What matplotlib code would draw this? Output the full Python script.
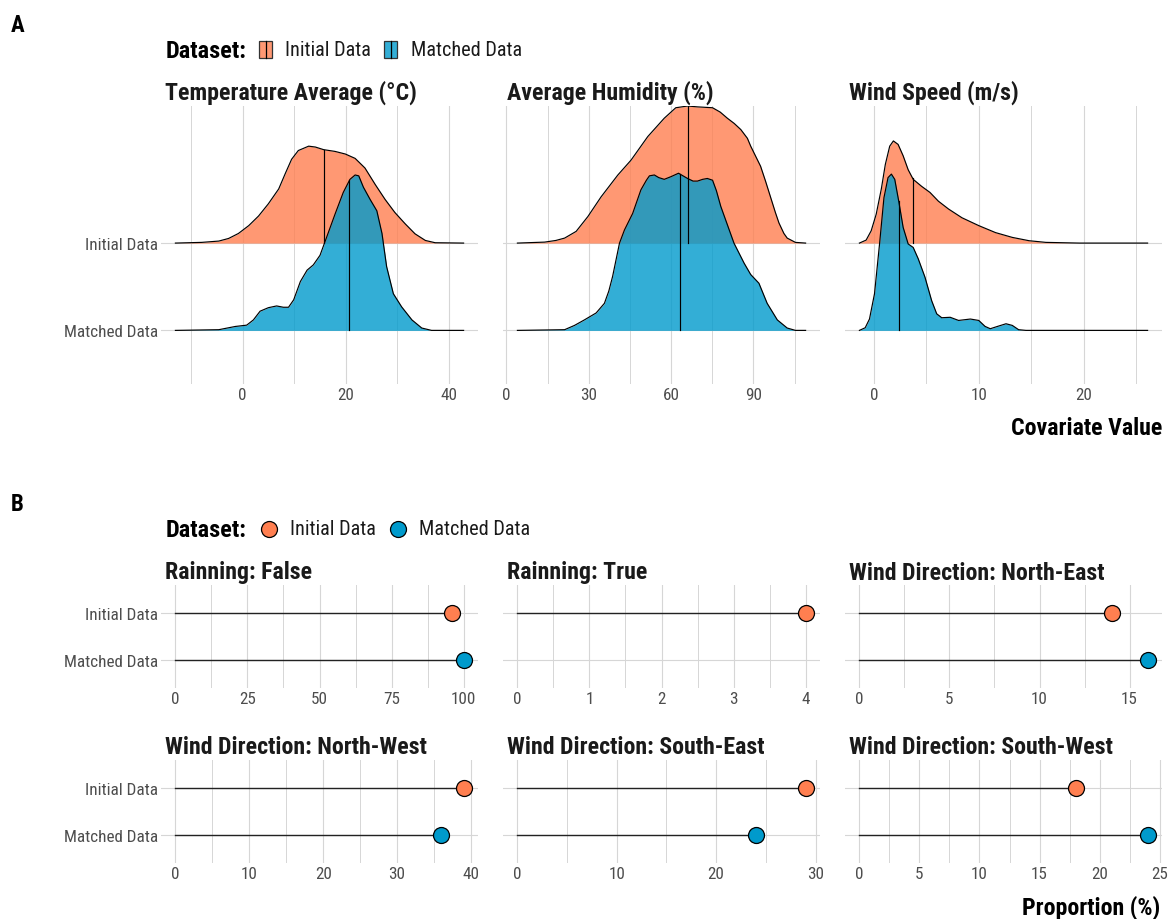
import numpy as np
import matplotlib
matplotlib.use("Agg")
import matplotlib.pyplot as plt
from matplotlib import font_manager
from matplotlib.patches import Rectangle
from matplotlib.lines import Line2D

installed = {f.name for f in font_manager.fontManager.ttflist}
CONDENSED = "Roboto Condensed" in installed
if CONDENSED:
    plt.rcParams['font.family'] = ['Roboto Condensed', 'DejaVu Sans']
    FS = dict(title=17.2, tick=12.3, legend=14.6, legend_title=17.5, tag=16.5)
else:
    plt.rcParams['font.family'] = ['Roboto', 'DejaVu Sans']
    FS = dict(title=15, tick=10.8, legend=13, legend_title=14.5, tag=15)

# ---------------------------------------------------------------- data
datasets = ["Initial Data", "Matched Data"]
colors = {"Initial Data": "#FF7F50", "Matched Data": "#009ACC"}

ridge_titles = ["Temperature Average (°C)", "Average Humidity (%)", "Wind Speed (m/s)"]

# density profiles (height in row units) of each covariate
temp_initial_x = [-13.0, -7.9, -4.6, -2.7, -0.8, 1.2, 3.1, 5.0, 7.0, 8.3, 9.5, 10.8, 12.8, 14.1,
                  15.7, 17.9, 19.9, 21.8, 23.7, 25.7, 27.6, 29.5, 31.5, 33.4, 35.4, 37.3, 42.8]
temp_initial_h = [0.0, 0.008, 0.023, 0.053, 0.11, 0.20, 0.31, 0.45, 0.62, 0.80, 0.96, 1.06, 1.11, 1.10,
                  1.07, 1.05, 1.02, 0.97, 0.86, 0.67, 0.50, 0.35, 0.22, 0.106, 0.03, 0.004, 0.0]
temp_matched_x = [-13.0, -4.6, -1.4, 0.8, 2.1, 3.4, 5.0, 6.6, 7.9, 8.9, 9.9, 11.2, 12.5, 13.7,
                  15.0, 16.3, 17.9, 19.5, 20.8, 21.8, 22.5, 23.4, 24.7, 26.0, 27.0, 27.9, 29.2,
                  30.8, 32.8, 34.7, 36.6, 42.8]
temp_matched_h = [0.0, 0.008, 0.045, 0.06, 0.12, 0.22, 0.26, 0.28, 0.265, 0.265, 0.35, 0.56, 0.69,
                  0.75, 0.86, 1.07, 1.33, 1.58, 1.73, 1.78, 1.77, 1.64, 1.50, 1.37, 1.11, 0.73, 0.42,
                  0.27, 0.12, 0.027, 0.0, 0.0]

hum_initial_x = [4.0, 13.9, 18.0, 21.2, 25.4, 29.7, 34.5, 40.6, 45.4, 51.5, 57.5, 61.7, 66.0,
                 69.6, 75.1, 77.9, 80.5, 83.0, 85.4, 87.8, 89.0, 92.6, 94.4, 96.2, 98.0, 99.3,
                 101.1, 102.3, 105.3, 109.0]
hum_initial_h = [0.0, 0.011, 0.03, 0.057, 0.134, 0.305, 0.53, 0.78, 0.95, 1.22, 1.43, 1.55, 1.57,
                 1.56, 1.55, 1.50, 1.43, 1.37, 1.30, 1.20, 1.11, 0.88, 0.71, 0.53, 0.35, 0.23,
                 0.11, 0.057, 0.008, 0.0]
hum_matched_x = [4.0, 21.2, 24.8, 28.4, 32.7, 35.7, 37.3, 38.7, 41.2, 43.0, 46.0, 49.0, 51.0, 52.1,
                 53.9, 55.5, 57.5, 59.9, 62.7, 66.0, 68.0, 69.6, 71.5, 73.2, 75.1, 76.5, 78.1,
                 82.9, 86.6, 89.0, 92.0, 95.0, 98.7, 102.3, 105.3, 109.0]
hum_matched_h = [0.0, 0.008, 0.057, 0.12, 0.20, 0.31, 0.45, 0.62, 1.00, 1.15, 1.34, 1.61, 1.72, 1.77,
                 1.78, 1.75, 1.73, 1.76, 1.80, 1.74, 1.71, 1.71, 1.73, 1.74, 1.72, 1.60, 1.42,
                 1.00, 0.77, 0.64, 0.54, 0.31, 0.12, 0.027, 0.0, 0.0]

wind_initial_x = [-1.38, -0.74, -0.26, 0.22, 0.71, 1.09, 1.51, 1.86, 2.31, 2.79, 3.27, 3.75,
                  4.55, 5.35, 6.15, 7.12, 8.40, 10.0, 11.6, 13.2, 14.8, 16.4, 19.6, 26.1]
wind_initial_h = [0.0, 0.034, 0.14, 0.33, 0.62, 0.90, 1.11, 1.17, 1.13, 1.00, 0.84, 0.73,
                  0.65, 0.58, 0.48, 0.39, 0.29, 0.20, 0.12, 0.065, 0.027, 0.008, 0.0, 0.0]
wind_matched_x = [-1.38, -0.83, -0.42, 0.06, 0.54, 0.96, 1.35, 1.67, 1.99, 2.37, 2.79, 3.27,
                  3.75, 4.23, 4.87, 5.51, 5.99, 6.47, 7.28, 8.08, 9.2, 10.0, 10.6, 11.1, 11.8,
                  12.6, 13.2, 13.8, 14.5, 26.1]
wind_matched_h = [0.0, 0.03, 0.13, 0.42, 0.99, 1.52, 1.75, 1.79, 1.73, 1.48, 1.18, 0.99,
                  0.95, 0.82, 0.61, 0.34, 0.19, 0.145, 0.15, 0.114, 0.13, 0.114, 0.046, 0.019, 0.046,
                  0.076, 0.057, 0.008, 0.0, 0.0]

temp_median = [15.7, 20.7]
hum_median = [66.0, 63.3]
wind_median = [3.69, 2.37]

ridge_ticks = [[0, 20, 40], [0, 30, 60, 90], [0, 10, 20]]
ridge_minor = [[-10, 10, 30], [15, 45, 75, 105], [5, 15, 25]]

lolli_titles = ["Rainning: False", "Rainning: True", "Wind Direction: North-East",
                "Wind Direction: North-West", "Wind Direction: South-East",
                "Wind Direction: South-West"]
initial_prop = [96, 4, 14, 39, 29, 18]
matched_prop = [100, np.nan, 16, 36, 24, 24]
lolli_ticks = [[0, 25, 50, 75, 100], [0, 1, 2, 3, 4], [0, 5, 10, 15],
               [0, 10, 20, 30, 40], [0, 10, 20, 30], [0, 5, 10, 15, 20, 25]]

# ---------------------------------------------------------------- layout
W, H = 1170, 920
fig = plt.figure(figsize=(W / 100, H / 100), dpi=100)
fig.patch.set_facecolor("white")

GRID = "#D6D6D6"
TICK = "#4D4D4D"
TITLE = "#1A1A1A"


def px_axes(left, top, width, height, **kw):
    return fig.add_axes([left / W, 1 - (top + height) / H, width / W, height / H], **kw)


def base_style(ax):
    for s in ax.spines.values():
        s.set_visible(False)
    ax.set_facecolor("none")
    ax.set_axisbelow(True)
    ax.tick_params(axis="both", which="both", length=0, labelsize=FS["tick"],
                   labelcolor=TICK, pad=2)
    ax.grid(which="major", color=GRID, lw=0.8)
    ax.grid(which="minor", axis="x", color=GRID, lw=0.7)


panel_left = [161, 503, 845]
panel_w = 317

# ---------------------------------------------------------------- panel A: ridgelines
ridges = [
    (temp_initial_x, temp_initial_h, temp_matched_x, temp_matched_h, temp_median),
    (hum_initial_x, hum_initial_h, hum_matched_x, hum_matched_h, hum_median),
    (wind_initial_x, wind_initial_h, wind_matched_x, wind_matched_h, wind_median),
]
row_pos = {"Initial Data": 2, "Matched Data": 1}

top_extent = max(max(2 + max(r[1]), 1 + max(r[3])) for r in ridges)

for i, (xi, hi, xm, hm, med) in enumerate(ridges):
    ax = px_axes(panel_left[i], 107, panel_w, 278)
    base_style(ax)
    lo = min(min(xi), min(xm))
    hi_x = max(max(xi), max(xm))
    pad = 0.05 * (hi_x - lo)
    ax.set_xlim(lo - pad, hi_x + pad)
    ax.set_ylim(0.386, top_extent)
    ax.set_xticks(ridge_ticks[i])
    ax.set_xticks(ridge_minor[i], minor=True)
    ax.set_yticks([1, 2])
    if i == 0:
        ax.set_yticklabels(["Matched Data", "Initial Data"])
    else:
        ax.set_yticklabels([])
    for name, xs, hs, m in (("Initial Data", xi, hi, med[0]), ("Matched Data", xm, hm, med[1])):
        b = row_pos[name]
        xs = np.asarray(xs, float)
        hs = np.asarray(hs, float)
        ax.fill_between(xs, b, b + hs, color=colors[name], alpha=0.8, lw=0)
        ax.plot(xs, b + hs, color="black", lw=0.85, solid_joinstyle="round")
        ax.plot([m, m], [b, b + np.interp(m, xs, hs)], color="black", lw=0.85)
    fig.text((panel_left[i] + 4) / W, 1 - 93 / H, ridge_titles[i], fontsize=FS["title"],
             fontweight="bold", color=TITLE, ha="left", va="center")

# ---------------------------------------------------------------- panel B: lollipops
row_tops = [586, 761]
title_y = [573, 747]
for k in range(6):
    r, c = divmod(k, 3)
    ax = px_axes(panel_left[c], row_tops[r], panel_w, 103)
    base_style(ax)
    vmax = np.nanmax([initial_prop[k], matched_prop[k]])
    ax.set_xlim(-0.05 * vmax, 1.05 * vmax)
    ax.set_ylim(0.4, 2.6)
    t = lolli_ticks[k]
    ax.set_xticks(t)
    step = t[1] - t[0]
    ax.set_xticks([v + step / 2 for v in t if v + step / 2 < 1.05 * vmax], minor=True)
    ax.set_yticks([1, 2])
    if c == 0:
        ax.set_yticklabels(["Matched Data", "Initial Data"])
    else:
        ax.set_yticklabels([])
    for name, val in (("Initial Data", initial_prop[k]), ("Matched Data", matched_prop[k])):
        if np.isnan(val):
            continue
        y = row_pos[name]
        ax.plot([0, val], [y, y], color="#222222", lw=1.0, zorder=2)
        ax.plot([val], [y], "o", ms=11.5, mfc=colors[name], mec="black", mew=0.9, zorder=3,
                clip_on=False)
    fig.text((panel_left[c] + 4) / W, 1 - title_y[r] / H, lolli_titles[k], fontsize=FS["title"],
             fontweight="bold", color=TITLE, ha="left", va="center")

# ---------------------------------------------------------------- annotations & legends
ov = fig.add_axes([0, 0, 1, 1], zorder=10)
ov.set_xlim(0, W)
ov.set_ylim(H, 0)
ov.axis("off")
ov.patch.set_alpha(0)

ov.text(11, 25, "A", fontsize=FS["tag"], fontweight="bold", color="black", ha="left", va="center")
ov.text(11, 505, "B", fontsize=FS["tag"], fontweight="bold", color="black", ha="left", va="center")
ov.text(1162, 429, "Covariate Value", fontsize=FS["title"], fontweight="bold", color="black",
        ha="right", va="center")
ov.text(1160, 908, "Proportion (%)", fontsize=FS["title"], fontweight="bold", color="black",
        ha="right", va="center")

# legend of panel A: filled keys with a median tick
ov.text(166, 51, "Dataset:", fontsize=FS["legend_title"], fontweight="bold", color="black",
        ha="left", va="center")
for name, kx, tx in (("Initial Data", 259, 285), ("Matched Data", 384, 411)):
    ov.add_patch(Rectangle((kx, 42), 13, 17, facecolor=colors[name], alpha=0.8, lw=0))
    ov.add_patch(Rectangle((kx, 42), 13, 17, facecolor="none", edgecolor="#333333", lw=0.9))
    ov.add_line(Line2D([kx + 6.5, kx + 6.5], [42, 59], color="black", lw=0.9))
    ov.text(tx, 50, name, fontsize=FS["legend"], color="#1A1A1A", ha="left", va="center")

# legend of panel B: point keys
ov.text(166, 531, "Dataset:", fontsize=FS["legend_title"], fontweight="bold", color="black",
        ha="left", va="center")
for name, kx, tx in (("Initial Data", 269, 290), ("Matched Data", 398, 419)):
    ov.plot([kx], [530], "o", ms=11.5, mfc=colors[name], mec="black", mew=0.9)
    ov.text(tx, 530, name, fontsize=FS["legend"], color="#1A1A1A", ha="left", va="center")

fig.savefig("out.png", dpi=100, facecolor="white")
